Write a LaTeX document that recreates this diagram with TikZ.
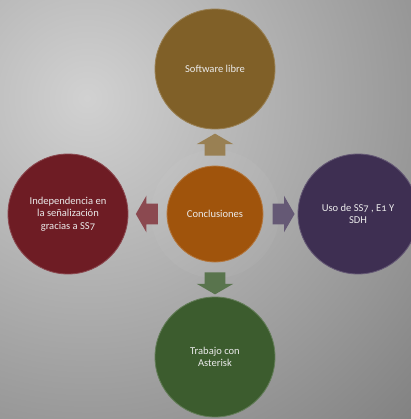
\documentclass[tikz,border=0pt]{standalone}
\usepackage{fontspec}
\setmainfont[Numbers=OldStyle]{Carlito}
\usepackage{tikz}
\usetikzlibrary{positioning, shapes.arrows}
\definecolor{cbrown}{RGB}{128, 96, 40}
\definecolor{corange}{RGB}{160, 84, 12}
\definecolor{cred}{RGB}{110, 28, 36}
\definecolor{cpurple}{RGB}{62, 47, 82}
\definecolor{cgreen}{RGB}{60, 92, 46}
\tikzset{
    ball/.style={circle, draw=#1!80!white, line width=0.6pt, fill=#1, minimum size=3cm,
        text=white!92!black, align=center, font=\fontsize{7.5}{9}\selectfont},
    hub/.style={ball=#1, minimum size=2.4cm},
    pointer/.style={single arrow, draw=none, fill=#1, inner xsep=0pt, inner ysep=0.25cm,
        minimum height=0.55cm, single arrow head extend=0.2cm, single arrow tip angle=120}
}
\begin{document}
\begin{tikzpicture}
    % background
    \begin{scope}
        \clip (-5.375,-5.125) rectangle (4.9,5.35);
        \shade[inner color=black!18, outer color=black!78] (-3.2,2.9) circle (22);
    \end{scope}
    \useasboundingbox (-5.375,-5.125) rectangle (4.9,5.35);

    \fill[white, opacity=0.04] (0,0) circle (1.6);

    \node[hub=corange] (conc) at (0,0) {Conclusiones};
    \node[ball=cbrown] (soft) at (0,3.625) {Software libre};
    \node[ball=cred] (indep) at (-3.675,0) {Independencia en\\la señalización\\gracias a SS7};
    \node[ball=cpurple] (uso) at (3.575,0) {Uso de SS7 , E1 Y\\SDH};
    \node[ball=cgreen] (trab) at (0,-3.575) {Trabajo con\\Asterisk};

    \node[pointer=cbrown!80!white, rotate=90] (aup) at (0,1.66) {};
    \node[pointer=cred!80!white, rotate=180] (aleft) at (-1.63,0) {};
    \node[pointer=cpurple!80!white] (aright) at (1.64,0) {};
    \node[pointer=cgreen!85!white, rotate=-90] (adown) at (0,-1.66) {};
\end{tikzpicture}
\end{document}
